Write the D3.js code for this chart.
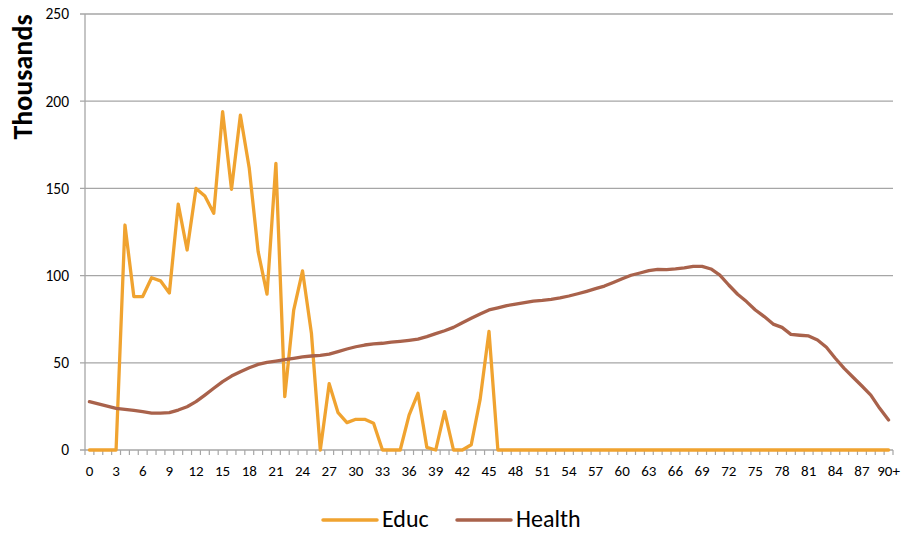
<!DOCTYPE html>
<html><head><meta charset="utf-8">
<script src="https://cdn.jsdelivr.net/npm/d3@7"></script>
<style>
body{margin:0;background:#fff;}
svg{display:block;font-family:Calibri,Carlito,"Open Sans","Noto Sans",sans-serif;}
</style></head>
<body><svg id="c" width="904" height="533"></svg>
<script>
const categories = d3.range(0, 90).map(String).concat(["90+"]);
const educ = [0,0,0,0,129,88,88,98.8,97,90,141,114.7,150,145.6,135.7,194,149.5,192,161.5,113.7,89.4,164.4,30.6,80,102.7,67,0,38,21.4,15.7,17.6,17.6,15.3,0,0,0,20,32.5,1.5,0,22,0,0,3,29,68,0,
0,0,0,0,0,0,0,0,0,0,0,0,0,0,0,0,0,0,0,0,0,0,0,0,0,0,0,0,0,0,0,0,0,0,0,0,0,0,0,0,0,0,0,0];
const health = [27.7,26.4,25.2,23.9,23.3,22.7,22.0,21.2,21.2,21.4,22.9,24.8,27.7,31.5,35.4,39.2,42.4,44.9,47.2,49.1,50.3,51.0,51.8,52.6,53.4,53.9,54.3,55,56.4,57.9,59.2,60.2,60.8,61.2,61.8,62.3,62.9,63.6,65,66.7,68.4,70.3,73,75.5,78,80.3,81.5,82.8,83.6,84.5,85.4,85.8,86.4,87.2,88.3,89.6,91,92.5,94,96.1,98.2,100.2,101.5,102.8,103.6,103.4,103.8,104.4,105.3,105.3,103.8,100.3,94.6,89.3,85.1,80.3,76.5,72.2,70.3,66.3,65.8,65.4,63.1,58.9,52.6,46.8,41.7,36.7,31.5,23.9,17.2];
const yTicks = [0,50,100,150,200,250];
const xTickLabels = categories.filter((d,i)=> i%3===0);
const seriesNames = ["Educ","Health"];
const colors = ["#f0a330","#a9624b"];

const svg = d3.select("#c");
const mLeft=85, mRight=893, mTop=14, mBottom=450;
const x = d3.scaleBand().domain(categories).range([mLeft,mRight]).padding(0);
const y = d3.scaleLinear().domain([0,250]).range([mBottom,mTop]);
const cx = d => x(d)+x.bandwidth()/2;

// gridlines
svg.append("g").selectAll("line").data(yTicks).join("line")
  .attr("x1",mLeft-5).attr("x2",mRight).attr("y1",d=>y(d)).attr("y2",d=>y(d))
  .attr("stroke","#a6a6a6").attr("stroke-width",1.3);
// y axis line
svg.append("line").attr("x1",mLeft).attr("x2",mLeft).attr("y1",mTop).attr("y2",mBottom)
  .attr("stroke","#a6a6a6").attr("stroke-width",1.3);
// y labels
svg.append("g").selectAll("text").data(yTicks).join("text")
  .attr("x",69).attr("y",d=>y(d)).attr("dy","0.35em").attr("text-anchor","end")
  .attr("font-size",15.5).attr("fill","#000").text(d=>d);
// x minor ticks at category boundaries
const bounds = categories.map(c=>x(c)).concat([mRight]);
svg.append("g").selectAll("line").data(bounds).join("line")
  .attr("x1",d=>d).attr("x2",d=>d).attr("y1",mBottom).attr("y2",mBottom+5)
  .attr("stroke","#a6a6a6").attr("stroke-width",1.2);
// x labels
svg.append("g").selectAll("text").data(xTickLabels).join("text")
  .attr("x",d=>cx(d)).attr("y",mBottom+26).attr("text-anchor","middle")
  .attr("font-size",15).attr("fill","#000").text(d=>d);
// y title
svg.append("text").attr("transform","translate(32,77) rotate(-90)")
  .attr("text-anchor","middle").attr("font-size",28).attr("font-weight","bold").text("Thousands");

const line = d3.line().x((d,i)=>cx(categories[i])).y(d=>y(d)).curve(d3.curveLinear);
[educ,health].forEach((s,k)=>{
  svg.append("path").datum(s).attr("d",line).attr("fill","none")
    .attr("stroke",colors[k]).attr("stroke-width",3.3).attr("stroke-linejoin","round").attr("stroke-linecap","round");
});

// legend
const lg = svg.append("g");
const lx = [323,457];
seriesNames.forEach((n,k)=>{
  lg.append("line").attr("x1",lx[k]).attr("x2",lx[k]+54).attr("y1",520).attr("y2",520)
    .attr("stroke",colors[k]).attr("stroke-width",3.5).attr("stroke-linecap","round");
  lg.append("text").attr("x",lx[k]+59).attr("y",527).attr("font-size",24).attr("fill","#000").text(n);
});
</script></body></html>
